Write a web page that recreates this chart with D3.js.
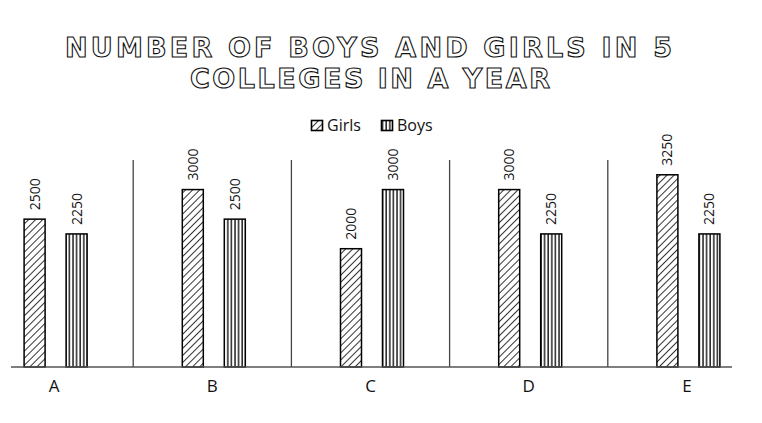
<!DOCTYPE html>
<html>
<head>
<meta charset="utf-8">
<script src="https://cdn.jsdelivr.net/npm/d3@7"></script>
<style>
  body { margin: 0; background: #fff; }
  svg { display: block; }
</style>
</head>
<body>
<svg></svg>
<script>
// data
const colleges = ['A', 'B', 'C', 'D', 'E'];
const girls = [2500, 3000, 2000, 3000, 3250];
const boys = [2250, 2500, 3000, 2250, 2250];
const seriesNames = ['Girls', 'Boys'];
const titleLines = ['NUMBER OF BOYS AND GIRLS IN 5', 'COLLEGES IN A YEAR'];

let width = 762, height = 423;
let margin = { top: 160, bottom: 56, left: 11, right: 30 };

let svg = d3.select('svg')
    .attr('width', width)
    .attr('height', height);

// patterns
let defs = svg.append('defs');
let diag = defs.append('pattern')
    .attr('id', 'hatch-girls')
    .attr('patternUnits', 'userSpaceOnUse')
    .attr('width', 5)
    .attr('height', 5)
    .attr('patternTransform', 'rotate(45)');
diag.append('rect').attr('width', 5).attr('height', 5).attr('fill', '#fff');
diag.append('line')
    .attr('x1', 0).attr('y1', 0).attr('x2', 0).attr('y2', 5)
    .attr('stroke', '#000').attr('stroke-width', 1.6);

let vert = defs.append('pattern')
    .attr('id', 'hatch-boys')
    .attr('patternUnits', 'userSpaceOnUse')
    .attr('width', 3.6)
    .attr('height', 4);
vert.append('rect').attr('width', 3.6).attr('height', 4).attr('fill', '#fff');
vert.append('line')
    .attr('x1', 1).attr('y1', 0).attr('x2', 1).attr('y2', 4)
    .attr('stroke', '#000').attr('stroke-width', 1.3);

const fills = { Girls: 'url(#hatch-girls)', Boys: 'url(#hatch-boys)' };

// title (outlined text)
svg.append('g').selectAll('text')
    .data(titleLines)
    .enter()
    .append('text')
    .attr('x', (d, i) => i === 0 ? 65 : 190)
    .attr('y', (d, i) => 57 + i * 31)
    .attr('textLength', (d, i) => i === 0 ? 607 : 360)
    .attr('lengthAdjust', 'spacing')
    .style('font-family', '"DejaVu Sans", sans-serif')
    .style('font-weight', 'bold')
    .style('font-size', '27px')
    .style('fill', '#fff')
    .style('stroke', '#111')
    .style('stroke-width', 1.1)
    .text(d => d);

// legend
let legend = svg.append('g');
let legendX = [311, 381];
seriesNames.forEach(function(name, i) {
    legend.append('rect')
        .attr('x', legendX[i] + 0.5)
        .attr('y', 120.5)
        .attr('width', 11)
        .attr('height', 10)
        .attr('fill', fills[name])
        .attr('stroke', '#000')
        .attr('stroke-width', 1.6);
    legend.append('text')
        .attr('x', legendX[i] + 16)
        .attr('y', 131)
        .style('font-family', '"Open Sans", sans-serif')
        .style('font-size', '16px')
        .style('fill', '#111')
        .text(name);
});

// scales
let xScale = d3.scaleBand()
    .domain(colleges)
    .range([-25, 766])
    .padding(0);

let inner = d3.scaleBand()
    .domain(seriesNames)
    .range([-30, 33])
    .paddingInner(0.5);

let yScale = d3.scaleLinear()
    .domain([0, 3500])
    .range([height - margin.bottom, margin.top]);

// separators between colleges
svg.append('g').selectAll('line')
    .data(colleges.slice(1))
    .enter()
    .append('line')
    .attr('x1', d => xScale(d))
    .attr('x2', d => xScale(d))
    .attr('y1', yScale(3500))
    .attr('y2', yScale(0))
    .attr('stroke', '#444')
    .attr('stroke-width', 1.3);

// bars
let rows = [];
colleges.forEach(function(c, i) {
    rows.push({ college: c, series: 'Girls', value: girls[i] });
    rows.push({ college: c, series: 'Boys', value: boys[i] });
});

let barX = d => xScale(d.college) + xScale.bandwidth() / 2 + inner(d.series);

svg.append('g').selectAll('rect')
    .data(rows)
    .enter()
    .append('rect')
    .attr('x', barX)
    .attr('y', d => yScale(d.value))
    .attr('width', inner.bandwidth())
    .attr('height', d => yScale(0) - yScale(d.value))
    .attr('fill', d => fills[d.series])
    .attr('stroke', '#000')
    .attr('stroke-width', 1.5);

// value labels (rotated)
svg.append('g').selectAll('text')
    .data(rows)
    .enter()
    .append('text')
    .attr('transform', d => `translate(${barX(d) + inner.bandwidth() / 2 + 5}, ${yScale(d.value) - 9}) rotate(-90)`)
    .style('font-family', '"Open Sans", sans-serif')
    .style('font-size', '14px')
    .style('fill', '#111')
    .text(d => d.value);

// x axis
let xAxis = svg.append('g')
    .attr('transform', `translate(0, ${yScale(0)})`)
    .call(d3.axisBottom(xScale).tickSize(0).tickPadding(13));
xAxis.select('.domain').remove();
xAxis.append('line')
    .attr('x1', margin.left)
    .attr('x2', width - margin.right)
    .attr('stroke', '#555')
    .attr('stroke-width', 1.6);
xAxis.selectAll('.tick text')
    .style('font-family', '"Open Sans", sans-serif')
    .style('font-size', '17px')
    .style('fill', '#111');
</script>
</body>
</html>
